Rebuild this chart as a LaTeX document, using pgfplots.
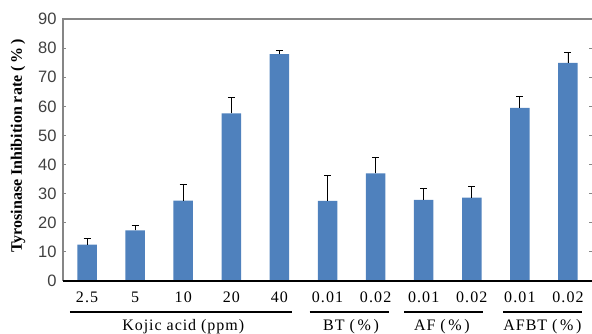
\documentclass[border=0pt]{standalone}
\usepackage{fontspec}
\setmainfont{Liberation Serif}
\newfontfamily\arialfont{Liberation Sans}
\newfontfamily\spacedserif[LetterSpace=7]{Liberation Serif}
\newfontfamily\groupserif[LetterSpace=6]{Liberation Serif}
\usepackage{pgfplots}
\pgfplotsset{compat=1.18}
\definecolor{barblue}{HTML}{4F81BD}
\definecolor{axgray}{HTML}{868686}
\begin{document}
\begin{tikzpicture}[x=1pt,y=1pt]
\path[use as bounding box] (0,0) rectangle (592,334);
\begin{axis}[
  at={(63pt,53pt)}, anchor=south west,
  scale only axis,
  width=529pt, height=262pt,
  xmin=-0.5, xmax=10.5,
  ymin=0, ymax=90,
  ytick={0,10,...,90},
  xtick={0,1,...,10},
  xticklabels={2.5,5,10,20,40,0.01,0.02,0.01,0.02,0.01,0.02},
  xticklabel style={anchor=base, yshift=-22pt, font=\spacedserif\fontsize{16}{18}\selectfont},
  yticklabel style={font=\arialfont\fontsize{16.5}{18}\selectfont, text=black!75, xshift=-3pt},
  /pgf/number format/assume math mode=true,
  x tick style={draw=none},
  y tick style={draw=axgray, line width=0.8pt},
  tick align=inside,
  major tick length=3pt,
  axis line style={draw=none},
  clip=false,
  ylabel={\textbf{Tyrosinase Inhibition rate (\,\%\,)}},
  ylabel style={at={(axis description cs:-0.085,0.515)}, anchor=center, font=\fontsize{16}{18}\selectfont},
]
\draw[axgray, line width=1.2pt] (rel axis cs:0,0) -- (rel axis cs:0,1) -- (rel axis cs:1,1);
\addplot[ybar, bar width=19.5pt, fill=barblue, draw=none,
  error bars/.cd, y dir=plus, y explicit,
  error bar style={black, line width=0.9pt},
  error mark options={rotate=90, mark size=3.5pt, black, line width=0.9pt}]
  table[x=x, y=y, y error=e] {
x y e
0 12.5 2.0
1 17.4 1.7
2 27.6 5.7
3 57.6 5.4
4 77.9 1.2
5 27.5 8.9
6 37.0 5.5
7 27.9 4.0
8 28.6 3.8
9 59.5 4.0
10 74.9 3.5
};
\draw[black, line width=1.2pt] (rel axis cs:0,0) -- (rel axis cs:1,0);
\begin{scope}[line width=1.5pt]
\draw ([yshift=-31pt]axis cs:-0.355,0) -- ([yshift=-31pt]axis cs:4.26,0);
\draw ([yshift=-31pt]axis cs:4.63,0) -- ([yshift=-31pt]axis cs:6.27,0);
\draw ([yshift=-31pt]axis cs:6.60,0) -- ([yshift=-31pt]axis cs:8.24,0);
\draw ([yshift=-31pt]axis cs:8.65,0) -- ([yshift=-31pt]axis cs:10.30,0);
\end{scope}
\begin{scope}[every node/.style={anchor=base, font=\groupserif\fontsize{16}{18}\selectfont}]
\node at ([yshift=-49.5pt]axis cs:2.0,0) {Kojic acid (ppm)};
\node at ([yshift=-49.5pt]axis cs:5.49,0) {BT (\,\%\,)};
\node at ([yshift=-49.5pt]axis cs:7.38,0) {AF (\,\%\,)};
\node at ([yshift=-49.5pt]axis cs:9.47,0) {AFBT (\,\%\,)};
\end{scope}
\end{axis}
\end{tikzpicture}
\end{document}
